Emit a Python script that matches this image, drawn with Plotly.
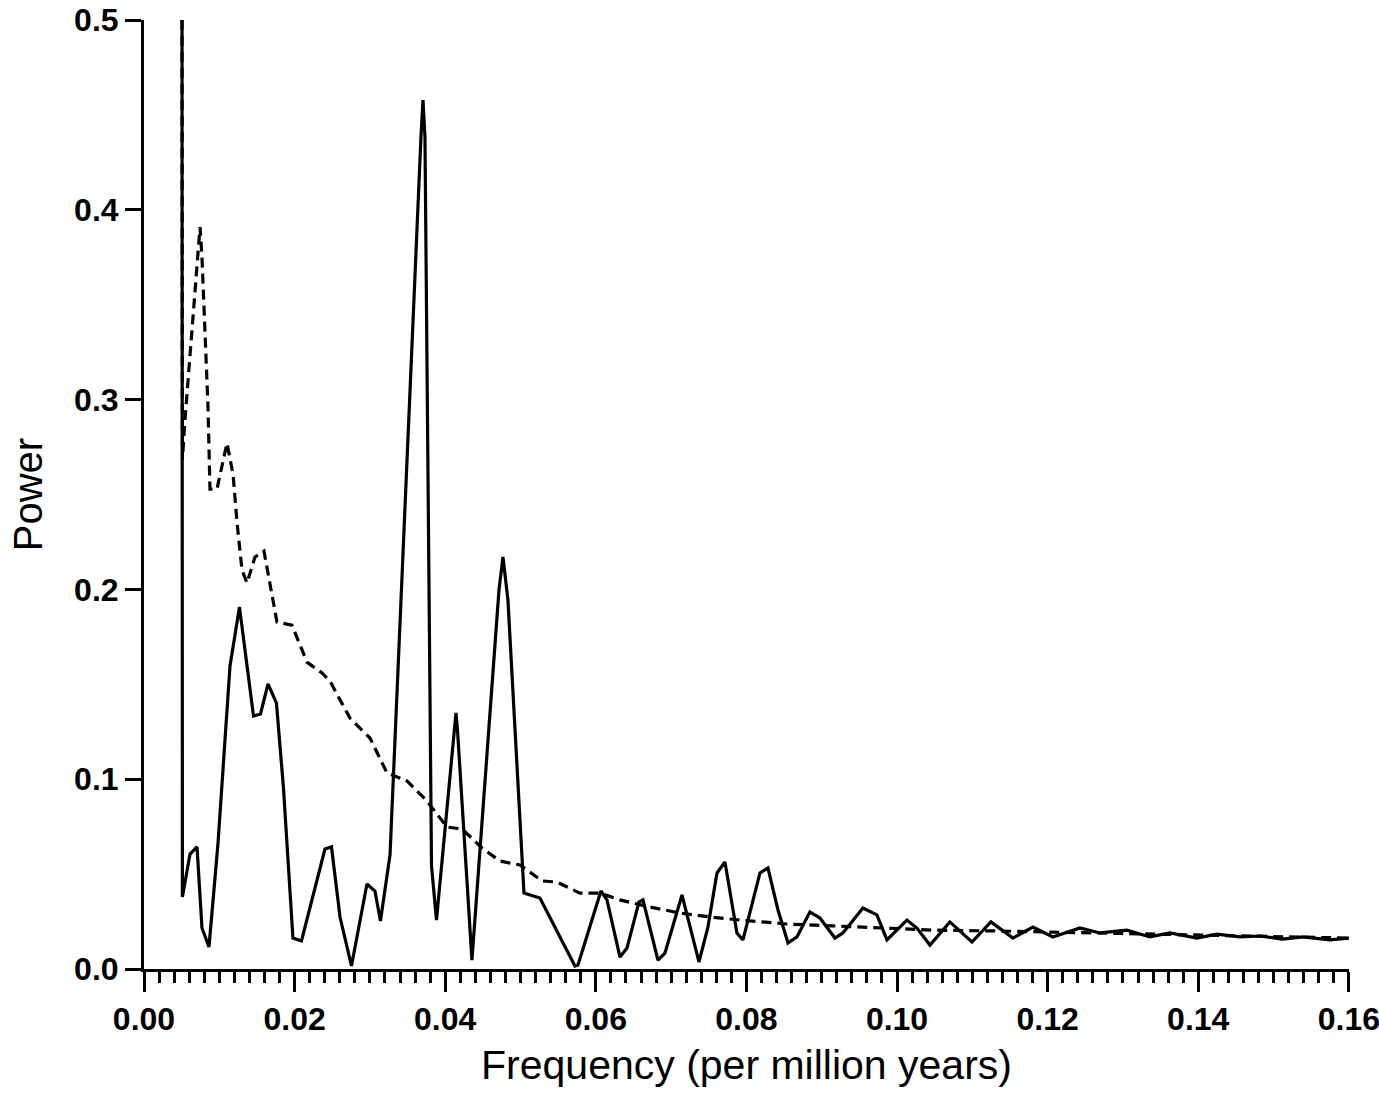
import plotly.graph_objects as go

# Solid curve: power spectrum
freq_solid = [0.00505, 0.0051, 0.00611, 0.00704, 0.0077, 0.00863, 0.00983, 0.01142, 0.01268, 0.01368,
              0.01454, 0.01547, 0.01647, 0.01759, 0.01852, 0.01978, 0.02091, 0.02403, 0.0249, 0.02603,
              0.02755, 0.02961, 0.03067, 0.0314, 0.03267, 0.03678, 0.03705, 0.03731, 0.03818, 0.03884,
              0.04143, 0.04163, 0.04355, 0.04714, 0.04767, 0.04833, 0.05046, 0.05258, 0.05431, 0.05723,
              0.05763, 0.06068, 0.06148, 0.06321, 0.06414, 0.06573, 0.06626, 0.06825, 0.06918, 0.07144,
              0.0737, 0.07489, 0.07609, 0.07715, 0.07874, 0.07954, 0.0818, 0.08286, 0.08419, 0.08552,
              0.08671, 0.08843, 0.08976, 0.09175, 0.09281, 0.09547, 0.09733, 0.09866, 0.10131, 0.10264,
              0.10437, 0.10702, 0.10995, 0.11247, 0.11539, 0.11804, 0.1207, 0.12429, 0.12694, 0.13053,
              0.13358, 0.13624, 0.13982, 0.14248, 0.14553, 0.14819, 0.15124, 0.1539, 0.15748, 0.1601]
power_solid = [0.5, 0.0379, 0.0606, 0.0643, 0.0216, 0.0116, 0.0664, 0.1597, 0.1907, 0.1597,
               0.1333, 0.1344, 0.1502, 0.1401, 0.0954, 0.0163, 0.0148, 0.0632, 0.0643, 0.0274,
               0.0016, 0.0448, 0.0411, 0.0253, 0.0601, 0.4384, 0.4579, 0.4384, 0.0543, 0.0258,
               0.1349, 0.1259, 0.0047, 0.1997, 0.2171, 0.1944, 0.04, 0.0374, 0.0242, 0.0016,
               0.0021, 0.0411, 0.0364, 0.0063, 0.0111, 0.0353, 0.0364, 0.0047, 0.0084, 0.039,
               0.0037, 0.0221, 0.0506, 0.0564, 0.019, 0.0153, 0.0506, 0.0532, 0.0311, 0.0137,
               0.0169, 0.03, 0.0269, 0.0163, 0.019, 0.0321, 0.0285, 0.0153, 0.0258, 0.0216,
               0.0126, 0.0248, 0.0142, 0.0248, 0.0163, 0.0221, 0.0169, 0.0216, 0.019, 0.0205,
               0.0169, 0.019, 0.0163, 0.0184, 0.0169, 0.0174, 0.0158, 0.0169, 0.0153, 0.0163]

# Dashed curve
freq_dashed = [0.00505, 0.0051, 0.00544, 0.0073, 0.00744, 0.0077, 0.0085, 0.00876, 0.00969, 0.01102,
               0.01182, 0.01235, 0.01301, 0.01368, 0.01474, 0.01593, 0.01766, 0.01965, 0.02164, 0.02364,
               0.0247, 0.02735, 0.03001, 0.03227, 0.03492, 0.03758, 0.04023, 0.04223, 0.04488, 0.04727,
               0.04993, 0.05285, 0.05484, 0.05789, 0.06055, 0.0632, 0.06652, 0.07117, 0.07516, 0.07914,
               0.08538, 0.09149, 0.09773, 0.10477, 0.11366, 0.1203, 0.12694, 0.13358, 0.14022, 0.14686,
               0.1535, 0.1601]
power_dashed = [0.5, 0.2682, 0.2893, 0.3841, 0.3909, 0.3751, 0.2961, 0.2529, 0.2529, 0.2771,
                0.2608, 0.2355, 0.2102, 0.2034, 0.2171, 0.2202, 0.1828, 0.1812, 0.1617, 0.156,
                0.1517, 0.1322, 0.1217, 0.1033, 0.0991, 0.0885, 0.0748, 0.0738, 0.0638, 0.0569,
                0.0548, 0.0464, 0.0458, 0.04, 0.04, 0.0364, 0.0332, 0.0295, 0.0274, 0.0258,
                0.0237, 0.0227, 0.0216, 0.0205, 0.02, 0.0195, 0.019, 0.0184, 0.0179, 0.0174,
                0.0169, 0.0163]

x_ticks = [0.00, 0.02, 0.04, 0.06, 0.08, 0.10, 0.12, 0.14, 0.16]
x_tick_labels = ["0.00", "0.02", "0.04", "0.06", "0.08", "0.10", "0.12", "0.14", "0.16"]
y_ticks = [0.0, 0.1, 0.2, 0.3, 0.4, 0.5]
y_tick_labels = ["0.0", "0.1", "0.2", "0.3", "0.4", "0.5"]

FONT = "Liberation Sans, Arial, sans-serif"

fig = go.Figure()
fig.add_trace(go.Scatter(x=freq_dashed, y=power_dashed, mode="lines",
                         line=dict(color="black", width=3.2, dash="10px,6px"),
                         showlegend=False, hoverinfo="skip"))
fig.add_trace(go.Scatter(x=freq_solid, y=power_solid, mode="lines",
                         line=dict(color="black", width=3.2),
                         showlegend=False, hoverinfo="skip"))

fig.update_layout(
    width=1379, height=1098,
    margin=dict(l=144, r=30, t=20, b=129),
    paper_bgcolor="white", plot_bgcolor="white",
    font=dict(family=FONT, color="black", size=32),
)
fig.update_xaxes(
    range=[0, 0.16002], tickvals=x_ticks, ticktext=x_tick_labels, automargin=False,
    ticklabeloverflow="allow",
    showgrid=False, zeroline=False, showline=True, linecolor="black", linewidth=3,
    ticks="outside", ticklen=20, tickwidth=3, tickcolor="black",
    minor=dict(dtick=0.002, tick0=0, ticks="outside", ticklen=11, tickwidth=2.5, tickcolor="black", showgrid=False),
    tickfont=dict(family=FONT, size=32, color="black", weight="bold"),
    title=dict(text="Frequency (per million years)", font=dict(family=FONT, size=41, color="black"), standoff=14),
)
fig.update_yaxes(
    range=[0, 0.50006], tickvals=y_ticks, ticktext=y_tick_labels, automargin=False,
    ticklabeloverflow="allow",
    showgrid=False, zeroline=False, showline=True, linecolor="black", linewidth=3,
    ticks="outside", ticklen=16, tickwidth=3, tickcolor="black",
    tickfont=dict(family=FONT, size=32, color="black", weight="bold"),
    title=dict(text="Power", font=dict(family=FONT, size=40, color="black"), standoff=20),
)

fig.write_html("out.html")
